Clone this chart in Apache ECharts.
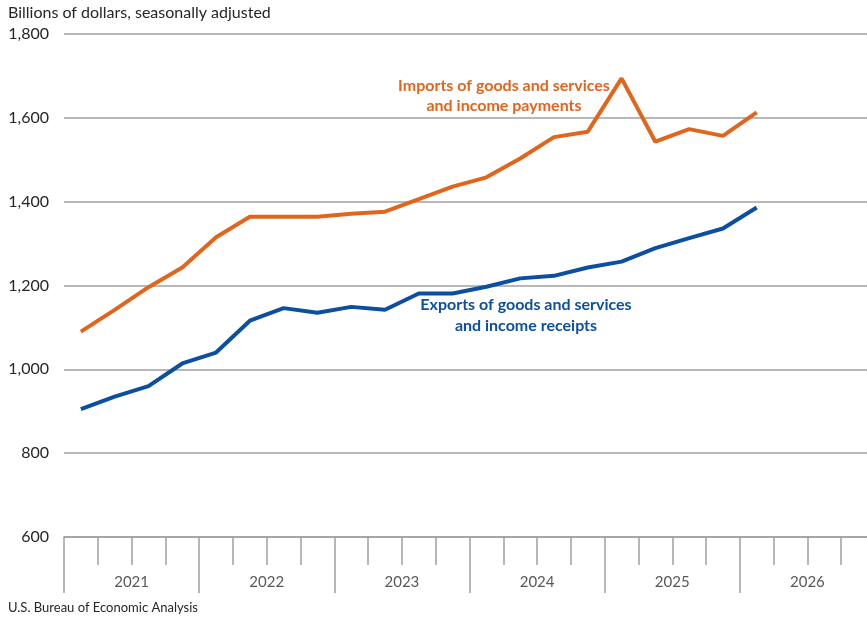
<!DOCTYPE html>
<html><head><meta charset="utf-8">
<script src="https://cdn.jsdelivr.net/npm/echarts@6/dist/echarts.min.js"></script>
<style>html,body{margin:0;padding:0;background:#fff;overflow:hidden;width:867px;height:621px}#c{width:875px;height:621px}</style>
</head><body><div id="c"></div>
<script>
const years = ['2021','2022','2023','2024','2025','2026'];
const quarters = [];
years.forEach(y => ['Q1','Q2','Q3','Q4'].forEach(q => quarters.push(y + ' ' + q)));
const imports = [1090,1142,1196,1243,1315,1364,1364,1364,1371,1376,1406,1436,1458,1503,1554,1567,1694,1543,1573,1557,1613];
const exportsData = [905,935,960,1014,1040,1116,1146,1135,1149,1142,1181,1181,1197,1217,1223,1243,1257,1289,1313,1336,1386];
const yTicks = [600,800,1000,1200,1400,1600,1800];
const FONT = 'Lato';
const ORANGE = '#E0661E', BLUE = '#0B4F9E', GRID = '#A0A0A0';

const chart = echarts.init(document.getElementById('c'));
chart.setOption({
  animation:false,
  textStyle:{fontFamily:FONT},
  grid:{left:64,right:0,top:34,bottom:84},
  xAxis:[{
    type:'category', data:quarters, boundaryGap:true,
    axisLine:{lineStyle:{color:GRID,width:1.5}},
    axisTick:{show:true,interval:0,length:28,lineStyle:{color:GRID,width:1.5}},
    axisLabel:{show:false}
  },{
    type:'category', data:years, boundaryGap:true, position:'bottom',
    axisLine:{show:false},
    axisTick:{show:true,interval:0,length:56,lineStyle:{color:GRID,width:1.5}},
    axisLabel:{show:true,interval:0,margin:38,fontSize:15,color:'#595959',fontFamily:FONT}
  }],
  yAxis:{
    type:'value', min:yTicks[0], max:yTicks[yTicks.length-1], interval:200,
    axisLine:{show:false}, axisTick:{show:false},
    splitLine:{lineStyle:{color:GRID,width:1.5}},
    axisLabel:{margin:15,fontSize:16,color:'#262626',fontFamily:FONT,
      formatter:v=>v.toLocaleString('en-US')}
  },
  series:[
    {type:'line',name:'Imports',data:imports,xAxisIndex:0,symbol:'none',
      lineStyle:{color:ORANGE,width:4},itemStyle:{color:ORANGE}},
    {type:'line',name:'Exports',data:exportsData,xAxisIndex:0,symbol:'none',
      lineStyle:{color:BLUE,width:4},itemStyle:{color:BLUE}}
  ],
  graphic:[
    {type:'text',left:8,top:5,style:{text:'Billions of dollars, seasonally adjusted',font:'16px '+FONT,fill:'#262626'}},
    {type:'text',left:8,top:601,style:{text:'U.S. Bureau of Economic Analysis',font:'13px '+FONT,fill:'#262626'}},
    {type:'text',x:504,y:96,style:{text:'Imports of goods and services\nand income payments',font:'bold 16px '+FONT,fill:ORANGE,align:'center',verticalAlign:'middle',lineHeight:20}},
    {type:'text',x:526,y:315,style:{text:'Exports of goods and services\nand income receipts',font:'bold 16px '+FONT,fill:BLUE,align:'center',verticalAlign:'middle',lineHeight:21}}
  ]
});
</script></body></html>
